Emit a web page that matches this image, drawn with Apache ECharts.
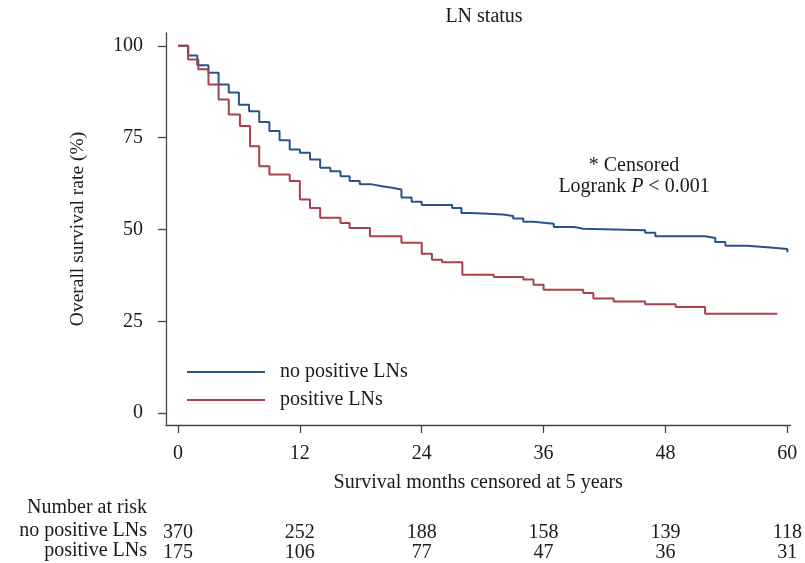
<!DOCTYPE html>
<html>
<head>
<meta charset="utf-8">
<script src="https://cdn.jsdelivr.net/npm/echarts@6/dist/echarts.min.js"></script>
<style>html,body{margin:0;padding:0;background:#fff}#c{width:805px;height:563px}</style>
</head>
<body>
<div id="c"></div>
<script>
// ---- data ----
var noPosMonths = [0, 1, 1.9, 3, 4, 5, 6, 7, 8, 9, 10, 11, 12, 13, 14, 15, 16, 16.9, 17.9, 19.1, 20.1, 21.1, 22, 23, 24, 27, 27.9, 28.9, 32, 33, 34, 35, 37, 39, 39.9, 46, 47, 51.9, 52.9, 53.9, 56, 58, 60, 60];
var noPosSurv = [100, 97.4, 94.7, 92.7, 89.5, 87.3, 84.0, 82.2, 79.3, 76.8, 74.3, 71.8, 70.9, 69.1, 66.8, 65.9, 64.5, 63.2, 62.3, 61.8, 61.4, 60.9, 58.7, 57.6, 56.7, 55.9, 54.5, 54.1, 53.7, 53.0, 52.1, 51.6, 50.7, 50.2, 49.8, 49.1, 48.2, 47.7, 46.6, 45.6, 45.2, 44.7, 44.7, 43.8];
var posMonths = [0, 1, 2, 3, 4, 5, 6.1, 7.1, 8, 9, 11, 12, 13, 14, 16, 16.9, 18.9, 22, 24, 25, 26, 28, 31.1, 34, 35, 36, 39.9, 40.9, 42.9, 46, 49, 51.9, 59];
var posSurv = [100, 96.3, 93.6, 89.5, 85.4, 81.3, 78.2, 72.7, 67.2, 65.0, 63.2, 58.2, 55.9, 53.2, 51.8, 50.4, 48.2, 46.4, 43.4, 41.8, 41.1, 37.7, 37.1, 36.4, 35.0, 33.6, 32.7, 31.2, 30.4, 29.7, 28.9, 27.1, 27.1];
var xTicks = [0, 12, 24, 36, 48, 60];
var yTicks = [0, 25, 50, 75, 100];
var riskNoPos = [370, 252, 188, 158, 139, 118];
var riskPos = [175, 106, 77, 47, 36, 31];
var seriesNames = ['no positive LNs', 'positive LNs'];

function zip(a, b) { return a.map(function (v, i) { return [v, b[i]]; }); }

var FONT = 'Liberation Serif';
var FS = 20;
var AX = '#444';
var TXT = '#1a1a1a';

var chart = echarts.init(document.getElementById('c'));

function riskAxis(offset, values) {
  return {
    type: 'value', min: -1.18, max: 60.3, position: 'bottom', offset: offset,
    axisLine: { show: false, onZero: false }, axisTick: { show: false }, splitLine: { show: false },
    axisLabel: {
      customValues: xTicks, margin: 0, fontFamily: FONT, fontSize: FS, color: TXT,
      formatter: function (v) { var i = xTicks.indexOf(v); return i >= 0 ? String(values[i]) : ''; }
    }
  };
}

chart.setOption({
  animation: false,
  backgroundColor: '#fff',
  title: {
    text: 'LN status', left: 479, top: 2, textAlign: 'center',
    textStyle: { fontFamily: FONT, fontSize: FS, fontWeight: 'normal', color: TXT }
  },
  grid: { left: 166, right: 13, top: 33, bottom: 138 },
  legend: {
    data: seriesNames, orient: 'vertical', left: 182, top: 357,
    icon: 'rect', itemWidth: 78, itemHeight: 2, itemGap: 8,
    textStyle: { fontFamily: FONT, fontSize: FS, color: TXT, padding: [0, 0, 0, 10] }
  },
  xAxis: [
    {
      type: 'value', min: -1.18, max: 60.3, position: 'bottom',
      axisLine: { show: true, onZero: false, lineStyle: { color: AX, width: 1.3 } },
      axisTick: { show: true, length: 8, customValues: xTicks, lineStyle: { color: AX, width: 1.3 } },
      axisLabel: { customValues: xTicks, margin: 19, fontFamily: FONT, fontSize: FS, color: TXT },
      splitLine: { show: false },
      name: 'Survival months censored at 5 years', nameLocation: 'middle', nameGap: 48,
      nameTextStyle: { fontFamily: FONT, fontSize: FS, color: TXT }
    },
    riskAxis(98, riskNoPos),
    riskAxis(118, riskPos)
  ],
  yAxis: {
    type: 'value', min: -3.2, max: 103.5,
    axisLine: { show: true, onZero: false, lineStyle: { color: AX, width: 1.3 } },
    axisTick: { show: true, length: 8, customValues: yTicks, lineStyle: { color: AX, width: 1.3 } },
    axisLabel: { customValues: yTicks, margin: 23, fontFamily: FONT, fontSize: FS, color: TXT },
    splitLine: { show: false },
    name: 'Overall survival rate (%)', nameLocation: 'middle', nameGap: 78, nameRotate: 90,
    nameTextStyle: { fontFamily: FONT, fontSize: 19.5, color: TXT }
  },
  graphic: [
    { type: 'text', x: 634, y: 166, style: { text: '* Censored', font: FS + 'px ' + FONT, fill: TXT, align: 'center', verticalAlign: 'middle' } },
    { type: 'text', x: 634, y: 187, style: {
        text: 'Logrank {i|P} < 0.001', font: FS + 'px ' + FONT, fill: TXT, align: 'center', verticalAlign: 'middle',
        rich: { i: { fontStyle: 'italic', fontFamily: FONT, fontSize: FS, fill: TXT } }
      } },
    { type: 'text', x: 147, y: 508, style: { text: 'Number at risk', font: FS + 'px ' + FONT, fill: TXT, align: 'right', verticalAlign: 'middle' } },
    { type: 'text', x: 147, y: 531, style: { text: seriesNames[0], font: FS + 'px ' + FONT, fill: TXT, align: 'right', verticalAlign: 'middle' } },
    { type: 'text', x: 147, y: 551, style: { text: seriesNames[1], font: FS + 'px ' + FONT, fill: TXT, align: 'right', verticalAlign: 'middle' } }
  ],
  series: [
    {
      name: seriesNames[0], type: 'line', step: 'end', symbol: 'none', xAxisIndex: 0,
      lineStyle: { color: '#28548a', width: 2 }, itemStyle: { color: '#28548a' },
      data: zip(noPosMonths, noPosSurv)
    },
    {
      name: seriesNames[1], type: 'line', step: 'end', symbol: 'none', xAxisIndex: 0,
      lineStyle: { color: '#a8404d', width: 2 }, itemStyle: { color: '#a8404d' },
      data: zip(posMonths, posSurv)
    }
  ]
});
</script>
</body>
</html>
